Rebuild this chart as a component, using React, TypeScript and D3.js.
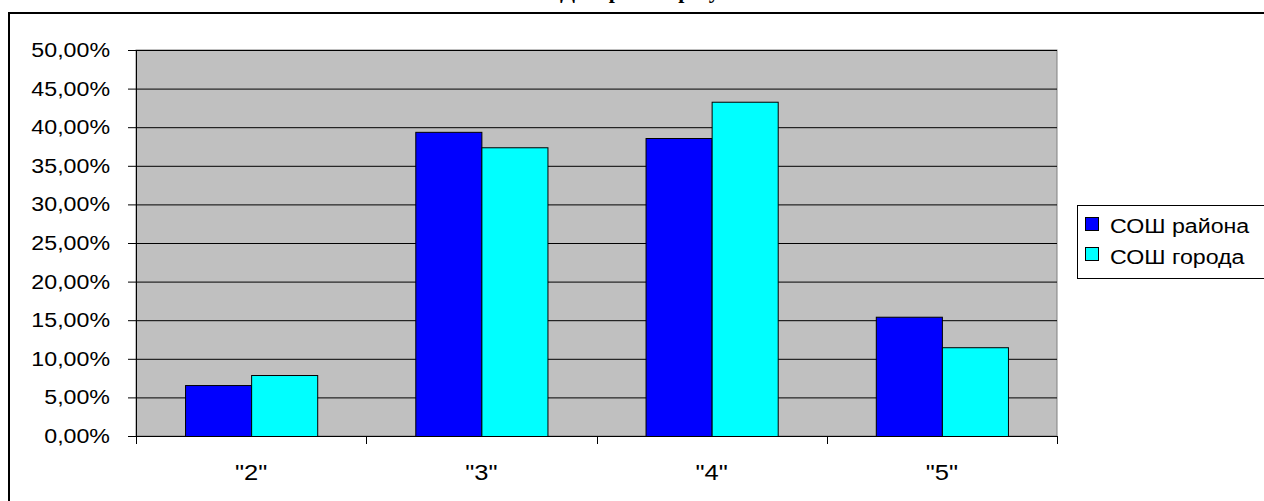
import React from "react";
import * as d3 from "d3";

const categories = ['"2"', '"3"', '"4"', '"5"'];
const seriesNames = ["СОШ района", "СОШ города"];
const seriesColors = ["#0000FF", "#00FFFF"];
const rayonValues = [6.6, 39.4, 38.6, 15.45];
const gorodValues = [7.9, 37.4, 43.3, 11.5];
const yTicks = [0, 5, 10, 15, 20, 25, 30, 35, 40, 45, 50];
const titleText = "Диаграмма результатов";

const W = 1264;
const H = 501;
const plot = { left: 136, right: 1057, top: 50, bottom: 436 };
const SX = 1.16;

export default function App() {
  const x = d3.scaleBand<string>().domain(categories).range([plot.left, plot.right]).padding(0);
  const y = d3.scaleLinear().domain([0, 50]).range([plot.bottom, plot.top]);
  const bw = x.bandwidth();
  const barW = bw * 0.287;
  const groupOffset = (bw - 2 * barW) / 2;
  const series = [rayonValues, gorodValues];
  const fmt = (v: number) => v.toFixed(2).replace(".", ",") + "%";
  const font = "'Liberation Sans', Arial, sans-serif";
  const tr = (tx: number, ty: number) => `translate(${tx},${ty}) scale(${SX},1)`;

  return (
    <svg width={W} height={H} style={{ position: "absolute", left: 0, top: 0 }} fontFamily={font}>
      <rect x={0} y={0} width={W} height={H} fill="#fff" />
      <text x={560} y={-2} fontFamily="'Liberation Serif', 'Times New Roman', serif" fontWeight="bold" fontSize={22}>
        {titleText}
      </text>
      <rect x={9} y={13} width={W + 20} height={H + 20} fill="none" stroke="#000" strokeWidth={2} />
      <rect x={plot.left} y={plot.top} width={plot.right - plot.left} height={plot.bottom - plot.top} fill="#C0C0C0" stroke="#808080" strokeWidth={1} />
      {yTicks.map((t) => (
        <g key={t}>
          {t > 0 && (
            <line x1={plot.left} x2={plot.right} y1={y(t) + 0.5} y2={y(t) + 0.5} stroke="#000" strokeWidth={1} />
          )}
          <line x1={plot.left - 8} x2={plot.left} y1={y(t) + 0.5} y2={y(t) + 0.5} stroke="#000" />
          <text transform={tr(110, y(t) + 7)} textAnchor="end" fontSize={20}>
            {fmt(t)}
          </text>
        </g>
      ))}
      {categories.map((c, i) => (
        <g key={c}>
          {series.map((vals, s) => (
            <rect
              key={s}
              x={(x(c) as number) + groupOffset + s * barW + 0.5}
              y={y(vals[i]) + 0.5}
              width={barW}
              height={plot.bottom - y(vals[i])}
              fill={seriesColors[s]}
              stroke="#000"
              strokeWidth={1}
            />
          ))}
          <text transform={tr((x(c) as number) + bw / 2, 480)} textAnchor="middle" fontSize={22}>
            {c}
          </text>
        </g>
      ))}
      <line x1={plot.left + 0.5} x2={plot.left + 0.5} y1={plot.top} y2={plot.bottom} stroke="#000" />
      <line x1={plot.left} x2={plot.right} y1={plot.bottom + 0.5} y2={plot.bottom + 0.5} stroke="#000" />
      {[...categories.map((c) => x(c) as number), plot.right].map((tx, i) => (
        <line key={i} x1={Math.round(tx) + 0.5} x2={Math.round(tx) + 0.5} y1={plot.bottom} y2={plot.bottom + 8} stroke="#000" />
      ))}
      <rect x={1077.5} y={205.5} width={300} height={73} fill="#fff" stroke="#000" strokeWidth={1} />
      {seriesNames.map((n, s) => (
        <g key={n}>
          <rect x={1085.5} y={217.5 + s * 30} width={13} height={13} fill={seriesColors[s]} stroke="#000" />
          <text transform={tr(1110, 233 + s * 31)} fontSize={20}>
            {n}
          </text>
        </g>
      ))}
    </svg>
  );
}
